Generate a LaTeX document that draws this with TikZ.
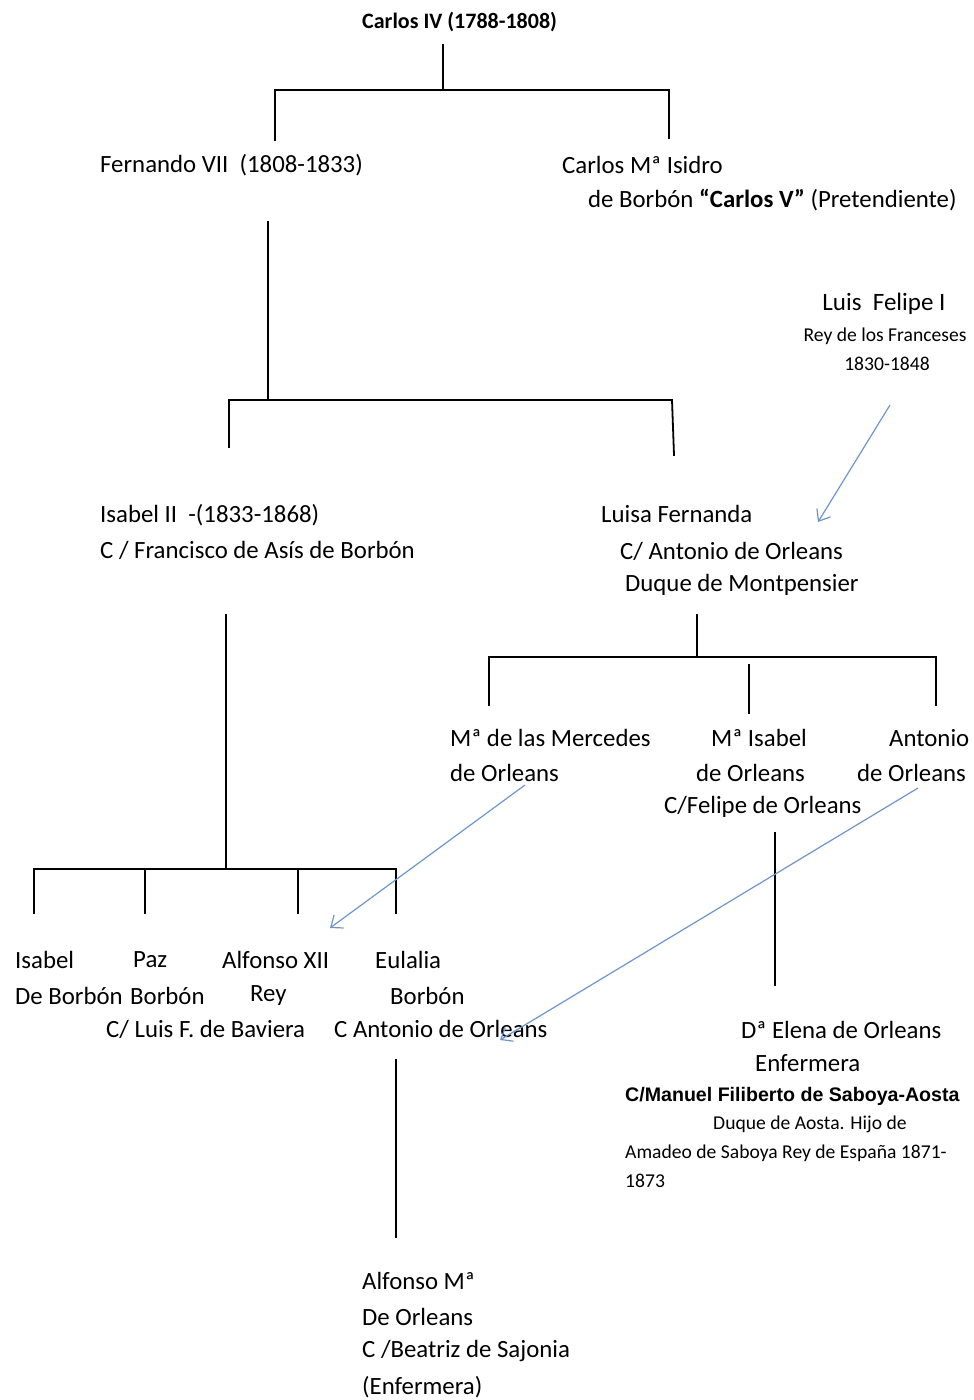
\documentclass[tikz,border=0pt]{standalone}
\usepackage{fontspec}
\setmainfont{Carlito}
\newfontfamily\arialfont{Liberation Sans}
\usetikzlibrary{arrows.meta}
\definecolor{arrowblue}{RGB}{110,150,205}
\tikzset{
  txt/.style={font=\fontsize{24.8}{28}\selectfont, inner sep=0pt, anchor=west},
  toptxt/.style={font=\fontsize{22}{26}\selectfont\bfseries, inner sep=0pt, anchor=west},
  lftxt/.style={font=\fontsize{25}{28}\selectfont, inner sep=0pt, anchor=center},
  smalltxt/.style={font=\fontsize{19.6}{22}\selectfont, inner sep=0pt, anchor=center},
  smallw/.style={font=\fontsize{19.6}{22}\selectfont, inner sep=0pt, anchor=west},
  ariabold/.style={font=\arialfont\bfseries\fontsize{19.6}{22}\selectfont, inner sep=0pt, anchor=west},
  tree/.style={line width=1.8pt, black, line cap=rect},
  marr/.style={draw=arrowblue, line width=1.2pt, -{Straight Barb[length=10pt,width=16pt,line width=1.2pt]}}
}
\begin{document}
\begin{tikzpicture}[x=1pt,y=-1pt]
\useasboundingbox[fill=white] (0,0) rectangle (974,1400);

% ---------- texts ----------
\node[toptxt] (c4) at (362,22) {Carlos IV (1788-1808)};

\node[txt] (f7) at (100,165) {Fernando VII\ \ (1808-1833)};
\node[txt] (cmi1) at (562,165) {Carlos Mª Isidro};
\node[txt] (cmi2) at (588,200) {de Borbón \textbf{“Carlos V”} (Pretendiente)};

\node[lftxt] (lf1) at (884,304) {Luis\ \ Felipe I};
\node[smalltxt] (lf2) at (885,336) {Rey de los Franceses};
\node[smalltxt] (lf3) at (887,364) {1830-1848};

\node[txt] (is1) at (100,515) {Isabel II\ \ -(1833-1868)};
\node[txt] (is2) at (100,550) {C / Francisco de Asís de Borbón};

\node[txt] (lu1) at (601,514) {Luisa Fernanda};
\node[txt] (lu2) at (620,551) {C/ Antonio de Orleans};
\node[txt] (lu3) at (625,585) {Duque de Montpensier};

\node[txt] (me1) at (450,738) {Mª de las Mercedes};
\node[txt] (me2) at (450,773) {de Orleans};
\node[txt] (mi1) at (711,738) {Mª Isabel};
\node[txt] (mi2) at (696,773) {de Orleans};
\node[txt] (mi3) at (664,807) {C/Felipe de Orleans};
\node[txt] (an1) at (889,738) {Antonio};
\node[txt] (an2) at (857,773) {de Orleans};

\node[txt] (ib1) at (15,960) {Isabel};
\node[txt] (ib2) at (15,996) {De Borbón};
\node[txt] (pz1) at (133,960) {Paz};
\node[txt] (pz2) at (130,996) {Borbón};
\node[txt] (al1) at (222,960) {Alfonso XII};
\node[txt] (al2) at (250,996) {Rey};
\node[txt] (al3) at (106,1029) {C/ Luis F. de Baviera};
\node[txt] (eu1) at (375,960) {Eulalia};
\node[txt] (eu2) at (390,996) {Borbón};
\node[txt] (eu3) at (334,1029) {C Antonio de Orleans};

\node[txt] (el1) at (741,1030) {Dª Elena de Orleans};
\node[txt] (el2) at (755,1063) {Enfermera};
\node[ariabold] (el3) at (625,1096) {C/Manuel Filiberto de Saboya-Aosta};
\node[smallw] (el4) at (713,1124) {Duque de Aosta. Hijo de};
\node[smallw] (el5) at (625,1153) {Amadeo de Saboya Rey de España 1871-};
\node[smallw] (el6) at (625,1181) {1873};

\node[txt] (am1) at (362,1281) {Alfonso Mª};
\node[txt] (am2) at (362,1317) {De Orleans};
\node[txt] (am3) at (362,1351) {C /Beatriz de Sajonia};
\node[txt] (am4) at (362,1387) {(Enfermera)};

% ---------- tree coordinates ----------
\coordinate (c4b) at (443,45);
\coordinate (c4j) at (443,90);
\coordinate (g1l) at (275,90);
\coordinate (g1r) at (669,90);
\coordinate (f7t) at (275,140);
\coordinate (cmit) at (669,138);

\coordinate (f7b) at (268,222);
\coordinate (f7j) at (268,400);
\coordinate (g2l) at (229,400);
\coordinate (g2r) at (672,400);
\coordinate (ist) at (229,447);
\coordinate (lut) at (674,455);

\coordinate (isb) at (226,615);
\coordinate (isj) at (226,869);
\coordinate (g4l) at (34,869);
\coordinate (g4r) at (396,869);
\coordinate (ibt) at (34,913);
\coordinate (pzj) at (145,869);
\coordinate (pzt) at (145,913);
\coordinate (alj) at (298,869);
\coordinate (alt) at (298,913);
\coordinate (eut) at (396,913);

\coordinate (lub) at (697,615);
\coordinate (luj) at (697,657);
\coordinate (g3l) at (489,657);
\coordinate (g3r) at (936,657);
\coordinate (met) at (489,705);
\coordinate (mit0) at (749,665);
\coordinate (mit) at (749,713);
\coordinate (ant) at (936,705);

\coordinate (mib) at (775,833);
\coordinate (elt) at (775,985);

\coordinate (eub) at (396,1060);
\coordinate (amt) at (396,1237);

% ---------- tree lines ----------
\draw[tree] (c4b) -- (c4j);
\draw[tree] (f7t) -- (g1l) -- (g1r) -- (cmit);

\draw[tree] (f7b) -- (f7j);
\draw[tree] (ist) -- (g2l) -- (g2r) -- (lut);

\draw[tree] (lub) -- (luj);
\draw[tree] (met) -- (g3l) -- (g3r) -- (ant);
\draw[tree] (mit0) -- (mit);

\draw[tree] (isb) -- (isj);
\draw[tree] (ibt) -- (g4l) -- (g4r) -- (eut);
\draw[tree] (pzj) -- (pzt);
\draw[tree] (alj) -- (alt);

\draw[tree] (mib) -- (elt);
\draw[tree] (eub) -- (amt);

% ---------- blue arrows ----------
\coordinate (lfa) at (890,405);
\coordinate (lua) at (818,522);
\coordinate (mea) at (525,785);
\coordinate (ala) at (330,928);
\coordinate (ana) at (918,788);
\coordinate (eua) at (500,1040);
\draw[marr] (lfa) -- (lua);
\draw[marr] (mea) -- (ala);
\draw[marr] (ana) -- (eua);
\end{tikzpicture}
\end{document}
